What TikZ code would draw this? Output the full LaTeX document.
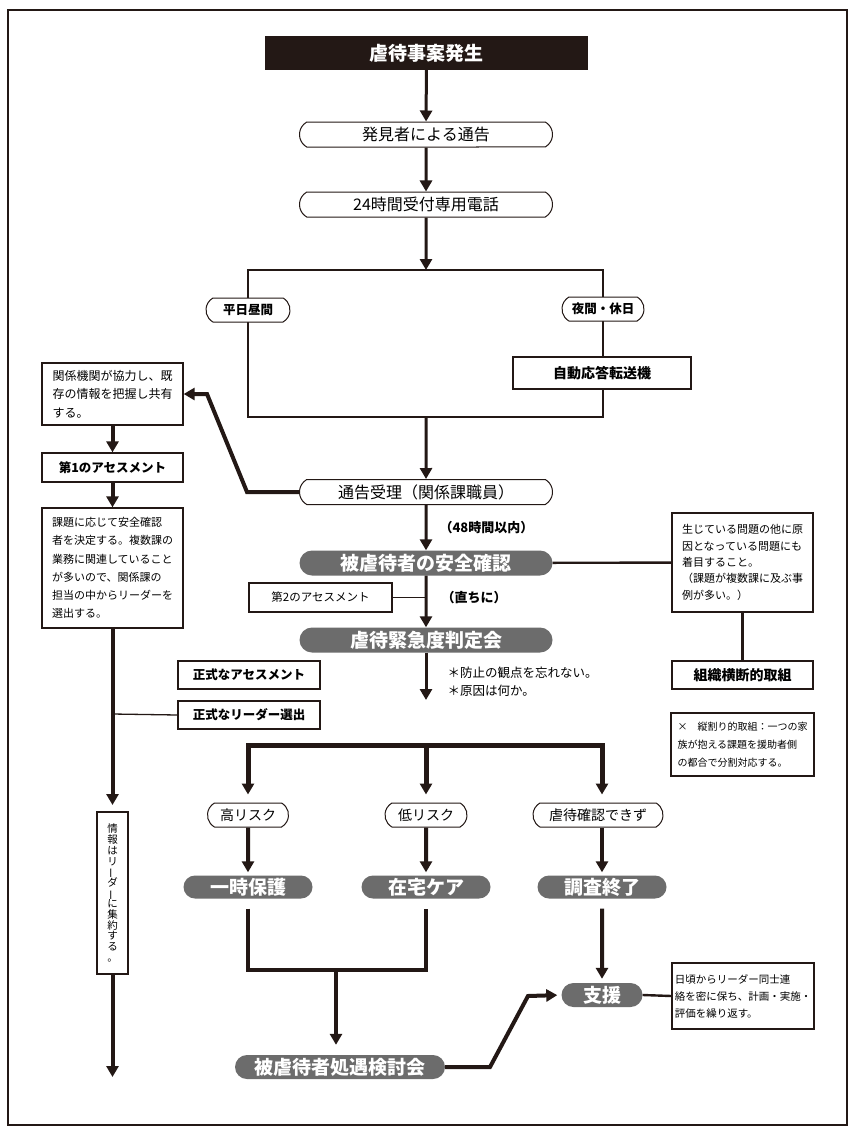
\documentclass[tikz,border=0pt]{standalone}
\usepackage{fontspec}
\usetikzlibrary{arrows.meta,shapes.misc}
\newfontfamily\jp{Noto Sans CJK JP}
\definecolor{ink}{RGB}{35,24,21}
\definecolor{pillgray}{RGB}{108,108,108}
\newcommand{\fsz}[2]{\fontsize{#1pt}{#2pt}\selectfont}
\tikzset{
  ln/.style={draw=ink, line width=1.3pt},
  mline/.style={draw=ink, line width=2.4pt},
  arr/.style={draw=ink, line width=3pt, ->},
  harr/.style={draw=ink, line width=4pt, ->},
  barr/.style={draw=ink, line width=5pt, ->},
  thk/.style={draw=ink, line width=4pt},
  wpill/.style={rounded rectangle, rounded rectangle arc length=120, draw=ink, line width=1pt, fill=white, inner sep=0pt, minimum height=25pt, font=\jp\fsz{16}{16}},
  gpill/.style={rounded rectangle, fill=pillgray, text=white, inner sep=0pt, minimum height=24pt, font=\jp\bfseries\fsz{19}{19}},
  sbox/.style={rectangle, draw=ink, line width=1.3pt, fill=white, inner sep=0pt},
  btext/.style={font=\jp\bfseries\fsz{12.5}{12.5}},
}
\begin{document}
\begin{tikzpicture}[x=1pt,y=-1pt,>={Triangle[width=12pt,length=11pt]}]
\useasboundingbox (0,0) rectangle (856,1132);
\fill[white] (0,0) rectangle (856,1132);
\draw[ink, line width=1.2pt] (8,10) rectangle (847,1125);

% top column
\node[fill=ink, text=white, minimum width=323pt, minimum height=34pt, inner sep=0pt, font=\jp\bfseries\fsz{19}{19}] (title) at (426.5,53) {虐待事案発生};
\node[wpill, minimum width=253pt] (disc) at (426,134.5) {発見者による通告};
\node[wpill, minimum width=253pt] (phone) at (426,204.5) {24時間受付専用電話};

\coordinate (boxNW) at (248,270);
\coordinate (boxSE) at (603,417);
\draw[mline] (boxNW) rectangle (boxSE);
\coordinate (boxtop) at (426,270);
\coordinate (boxbot) at (426,417);
\node[wpill, minimum width=84pt, minimum height=24pt, font=\jp\bfseries\fsz{12.5}{12.5}] (day) at (248,310) {平日昼間};
\node[wpill, minimum width=82pt, minimum height=24pt, font=\jp\bfseries\fsz{12.5}{12.5}] (night) at (603,309) {夜間・休日};
\node[sbox, line width=2.4pt, minimum width=178pt, minimum height=32pt, font=\jp\bfseries\fsz{14}{14}] (auto) at (602,373) {自動応答転送機};

\node[wpill, minimum width=253pt] (recv) at (426,492) {通告受理（関係課職員）};
\node[gpill, minimum width=253pt, minimum height=25pt] (safe) at (426,563) {被虐待者の安全確認};
\node[gpill, minimum width=253pt, minimum height=25pt] (judge) at (426,640) {虐待緊急度判定会};
\node[anchor=west, font=\jp\bfseries\fsz{13}{13}] (t48) at (436,528) {（48時間以内）};
\node[anchor=west, font=\jp\bfseries\fsz{13}{13}] (tnow) at (438,598) {（直ちに）};
\node[sbox, minimum width=143pt, minimum height=29pt, font=\jp\fsz{11.5}{11.5}] (as2) at (320.5,597.5) {第2のアセスメント};
\coordinate (as2j) at (426,597.5);
\coordinate (jtip) at (426,700);
\node[anchor=west, font=\jp\fsz{12.5}{18}, align=left] (memo) at (444,682) {＊防止の観点を忘れない。\\＊原因は何か。};

% left column
\node[sbox, minimum width=141pt, minimum height=62pt, align=left, font=\jp\fsz{12}{18.3}] (share) at (112.5,394) {関係機関が協力し、既\\存の情報を把握し共有\\する。};
\node[sbox, minimum width=141pt, minimum height=29pt, btext] (as1) at (112.5,467.5) {第1のアセスメント};
\node[sbox, minimum width=141pt, minimum height=120pt, align=left, font=\jp\fsz{11}{18.3}] (kadai) at (112.5,568) {課題に応じて安全確認\\者を決定する。複数課の\\業務に関連していること\\が多いので、関係課の\\担当の中からリーダーを\\選出する。};
\coordinate (ltip1) at (112.5,805);
\coordinate (lj) at (112.5,714);
\node[sbox, minimum width=142pt, minimum height=28pt, btext] (formal) at (249,675) {正式なアセスメント};
\node[sbox, minimum width=142pt, minimum height=28pt, btext] (leader) at (249,715) {正式なリーダー選出};
\node[sbox, minimum width=31pt, minimum height=162pt, align=center, font={\jp\fsz{10.5}{10.7}\lineskiplimit=-100pt}] (joho) at (112.5,893) {情\\報\\は\\リ\\\rotatebox[origin=c]{90}{ー}\\ダ\\\rotatebox[origin=c]{90}{ー}\\に\\集\\約\\す\\る\\。};
\coordinate (ltip2) at (112.5,1077);

% right column
\node[sbox, minimum width=141pt, minimum height=99pt, align=left, font=\jp\fsz{11}{16.3}] (cause) at (742.5,562.5) {生じている問題の他に原\\因となっている問題にも\\着目すること。\\（課題が複数課に及ぶ事\\例が多い。）};
\node[sbox, minimum width=141pt, minimum height=28pt, font=\jp\bfseries\fsz{14}{14}] (org) at (742.5,675) {組織横断的取組};
\node[sbox, minimum width=143pt, minimum height=63pt, align=left, font=\jp\fsz{10}{18.3}] (tate) at (742.5,744.5) {×　縦割り的取組：一つの家\\族が抱える課題を援助者側\\の都合で分割対応する。};

% branches
\coordinate (bL) at (248,745);
\coordinate (bM) at (426,745);
\coordinate (bR) at (602,745);
\node[wpill, minimum width=81pt, minimum height=24pt, font=\jp\fsz{14}{14}] (hi) at (248,815) {高リスク};
\node[wpill, minimum width=82pt, minimum height=24pt, font=\jp\fsz{14}{14}] (lo) at (426,815) {低リスク};
\node[wpill, minimum width=130pt, minimum height=24pt, font=\jp\fsz{14}{14}] (nc) at (598,815) {虐待確認できず};
\node[gpill, minimum width=129pt, minimum height=23pt] (p1) at (248,887) {一時保護};
\node[gpill, minimum width=129pt, minimum height=23pt] (p2) at (426,887) {在宅ケア};
\node[gpill, minimum width=129pt, minimum height=23pt] (p3) at (602,887) {調査終了};
\coordinate (m1) at (248,970);
\coordinate (m2) at (426,970);
\coordinate (mc) at (336,970);
\node[gpill, minimum width=210pt, minimum height=24pt] (meet) at (340,1067) {被虐待者処遇検討会};
\node[gpill, minimum width=81pt, minimum height=24pt] (supp) at (602,995) {支援};
\coordinate (k1) at (490,1067);
\coordinate (k2) at (528,996);
\node[sbox, minimum width=142pt, minimum height=66pt, align=left, font=\jp\fsz{10.5}{17}] (plan) at (743,996) {日頃からリーダー同士連\\絡を密に保ち、計画・実施・\\評価を繰り返す。};

% connectors
\draw[arr] (title) -- (disc);
\draw[arr] (disc) -- (phone);
\draw[arr] (phone) -- (boxtop);
\draw[arr] (boxbot) -- (recv);
\draw[arr] (recv) -- (safe);
\draw[arr] (safe) -- (judge);
\draw[ln] (as2) -- (as2j);
\draw[arr] (judge) -- (jtip);
\draw[mline] (safe) -- (cause);
\draw[mline] (cause) -- (org);
\draw[harr] (recv.west) -- (247,492) -- (207,394) -- (share.east);
\draw[harr] (share) -- (as1);
\draw[harr] (as1) -- (kadai);
\draw[harr] (kadai) -- (ltip1);
\draw[ln] (lj) -- (leader.west);
\draw[harr] (joho) -- (ltip2);
\draw[draw=ink, line width=5pt, <->, shorten <=8pt, shorten >=8pt] (hi.north) -- (bL) -- (bR) -- (bR |- nc.north);
\draw[barr, shorten >=8pt] (bM) -- (lo.north);
\draw[harr, shorten >=3pt] (hi) -- (p1);
\draw[harr, shorten >=3pt] (lo) -- (p2);
\draw[harr, shorten >=3pt] (nc.south -| p3.north) -- (p3.north);
\draw[thk, shorten <=10pt, shorten >=10pt] (p1.south) -- (m1) -- (m2) -- (p2.south);
\draw[harr, shorten >=10pt] (mc) -- (mc |- meet.north);
\draw[harr, shorten <=10pt, shorten >=4pt] (p3) -- (supp);
\draw[harr, shorten >=4pt] (meet.east) -- (k1) -- (k2) -- (supp.west);
\draw[mline] (supp.east) -- (plan.west);
\end{tikzpicture}
\end{document}
